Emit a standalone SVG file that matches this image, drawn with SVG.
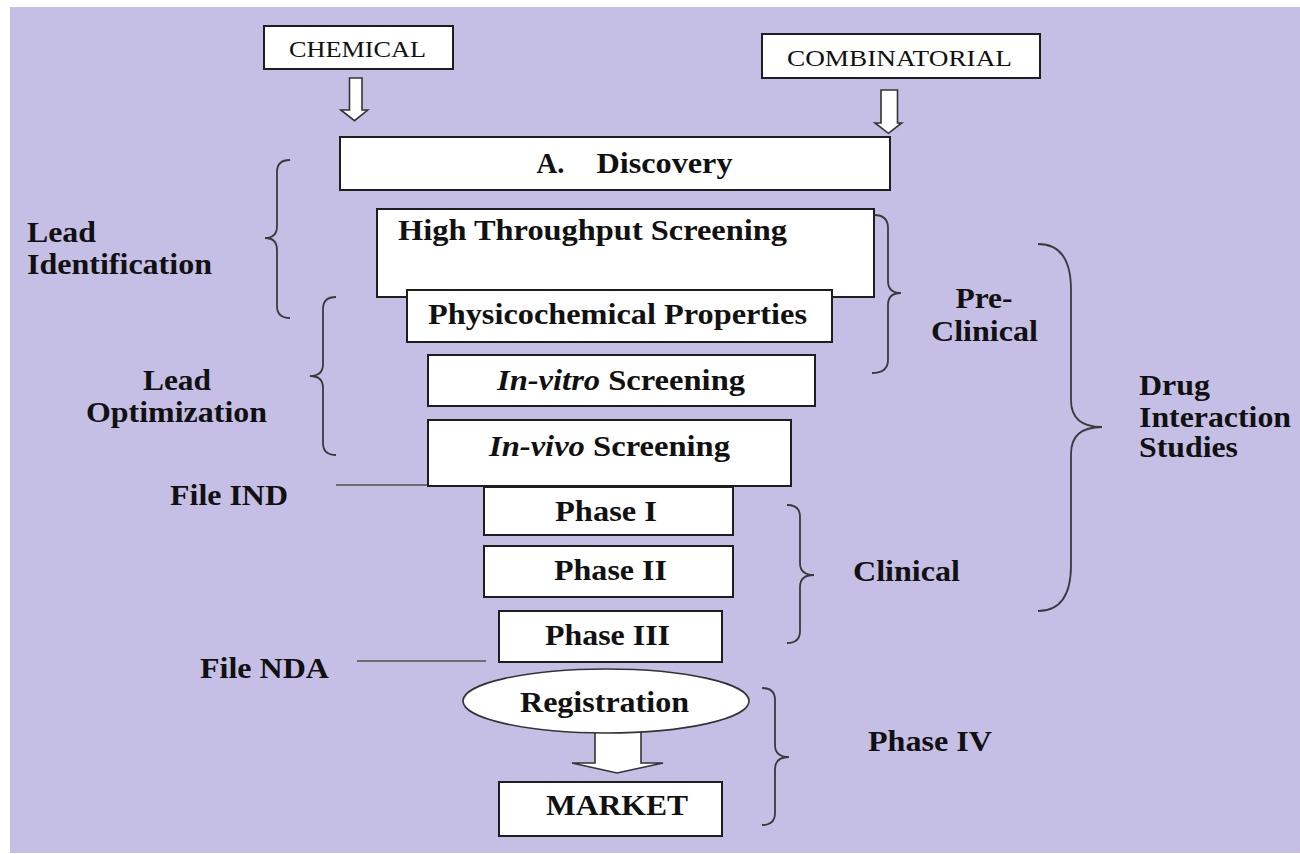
<svg xmlns="http://www.w3.org/2000/svg" width="1300" height="854" viewBox="0 0 1300 854">
<style>
.box{fill:#ffffff;stroke:#1e1e1e;stroke-width:2}
.arr{fill:#ffffff;stroke:#333333;stroke-width:1.6}
.brace{fill:none;stroke:#3a3a3a;stroke-width:1.8}
.ln{stroke:#6e6e6e;stroke-width:2;fill:none}
.b{font-family:"Liberation Serif","Times New Roman",serif;font-weight:bold;font-size:29px;fill:#111}
.r{font-family:"Liberation Serif","Times New Roman",serif;font-size:23px;fill:#111}
.i{font-style:italic}
</style>
<rect x="0" y="0" width="1300" height="854" fill="#ffffff"/>
<rect x="10" y="7" width="1290" height="846" fill="#c6bfe5"/>

<g id="connectors">
  <polygon class="arr" points="349.5,78 362,78 362,110 367.7,110 354.5,120.7 340.8,110 349.5,110"/>
  <polygon class="arr" points="881,90 897.5,90 897.5,123 901.7,123 888.4,133.3 875,123 881,123"/>
  <polygon class="arr" points="595,725 641,725 641,763 663,763 617,773 572,763 595,763"/>
  <line class="ln" x1="336" y1="485" x2="452" y2="485"/>
  <line class="ln" x1="357" y1="661" x2="486" y2="661"/>
</g>

<g id="braces">
  <path class="brace" d="M290 160 Q277 160 277 172 L277 226 Q277 238 265 238 Q277 238 277 250 L277 306 Q277 318 290 318"/>
  <path class="brace" d="M336 297 Q323 297 323 309 L323 364 Q323 376 310 376 Q323 376 323 388 L323 443 Q323 455 336 455"/>
  <path class="brace" d="M874 215 Q888 215 888 228 L888 281 Q888 293 901 293 Q888 293 888 305 L888 360 Q888 373 872 373"/>
  <path class="brace" d="M1038 244 Q1071 244 1071 290 L1071 400 Q1071 427 1102 427 Q1071 427 1071 454 L1071 565 Q1071 611 1038 611"/>
  <path class="brace" d="M787 505 Q800 505 800 517 L800 563 Q800 575 814 575 Q800 575 800 587 L800 631 Q800 643 787 643"/>
  <path class="brace" d="M762 688 Q775 688 775 700 L775 745 Q775 757 789 757 Q775 757 775 769 L775 813 Q775 825 762 825"/>
</g>

<g id="n-chemical">
  <rect class="box" x="264" y="26" width="189" height="43"/>
  <text class="r" x="289" y="57" textLength="137" lengthAdjust="spacingAndGlyphs">CHEMICAL</text>
</g>
<g id="n-combinatorial">
  <rect class="box" x="762" y="34" width="278" height="44"/>
  <text class="r" x="787" y="66" textLength="225" lengthAdjust="spacingAndGlyphs">COMBINATORIAL</text>
</g>
<g id="n-discovery">
  <rect class="box" x="340" y="137" width="550" height="53"/>
  <text class="b" x="536.5" y="173" textLength="28" lengthAdjust="spacingAndGlyphs">A.</text>
  <text class="b" x="596.5" y="173" textLength="136" lengthAdjust="spacingAndGlyphs">Discovery</text>
</g>
<g id="n-hts">
  <rect class="box" x="377" y="209" width="497" height="88"/>
  <text class="b" x="398" y="240" textLength="389" lengthAdjust="spacingAndGlyphs">High Throughput Screening</text>
</g>
<g id="n-physico">
  <rect class="box" x="407" y="290" width="425" height="52"/>
  <text class="b" x="428" y="324" textLength="379" lengthAdjust="spacingAndGlyphs">Physicochemical Properties</text>
</g>
<g id="n-invitro">
  <rect class="box" x="428" y="355" width="387" height="51"/>
  <text class="b" x="497" y="390" textLength="248" lengthAdjust="spacingAndGlyphs"><tspan class="i">In-vitro</tspan> Screening</text>
</g>
<g id="n-invivo">
  <rect class="box" x="428" y="420" width="363" height="66"/>
  <text class="b" x="489" y="456" textLength="241" lengthAdjust="spacingAndGlyphs"><tspan class="i">In-vivo</tspan> Screening</text>
</g>
<g id="n-phase1">
  <rect class="box" x="484" y="487" width="249" height="48"/>
  <text class="b" x="555" y="521" textLength="102" lengthAdjust="spacingAndGlyphs">Phase I</text>
</g>
<g id="n-phase2">
  <rect class="box" x="484" y="546" width="249" height="51"/>
  <text class="b" x="554" y="580" textLength="113" lengthAdjust="spacingAndGlyphs">Phase II</text>
</g>
<g id="n-phase3">
  <rect class="box" x="499" y="611" width="223" height="51"/>
  <text class="b" x="545" y="645" textLength="125" lengthAdjust="spacingAndGlyphs">Phase III</text>
</g>
<g id="n-registration">
  <ellipse cx="606" cy="701" rx="143" ry="32" fill="#ffffff" stroke="#333333" stroke-width="1.6"/>
  <text class="b" x="520" y="712" textLength="169" lengthAdjust="spacingAndGlyphs">Registration</text>
</g>
<g id="n-market">
  <rect class="box" x="499" y="782" width="223" height="54"/>
  <text class="b" x="546" y="815" textLength="142" lengthAdjust="spacingAndGlyphs">MARKET</text>
</g>

<g id="label-lead-identification">
  <text class="b" x="27" y="242" textLength="69" lengthAdjust="spacingAndGlyphs">Lead</text>
  <text class="b" x="27" y="274" textLength="185" lengthAdjust="spacingAndGlyphs">Identification</text>
</g>
<g id="label-lead-optimization">
  <text class="b" x="143" y="390" textLength="68" lengthAdjust="spacingAndGlyphs">Lead</text>
  <text class="b" x="86" y="422" textLength="181" lengthAdjust="spacingAndGlyphs">Optimization</text>
</g>
<g id="label-file-ind">
  <text class="b" x="170" y="505" textLength="118" lengthAdjust="spacingAndGlyphs">File IND</text>
</g>
<g id="label-file-nda">
  <text class="b" x="200" y="678" textLength="129" lengthAdjust="spacingAndGlyphs">File NDA</text>
</g>
<g id="label-preclinical">
  <text class="b" x="955.5" y="308" textLength="57" lengthAdjust="spacingAndGlyphs">Pre-</text>
  <text class="b" x="931" y="341" textLength="107" lengthAdjust="spacingAndGlyphs">Clinical</text>
</g>
<g id="label-drug-interaction">
  <text class="b" x="1139" y="395" textLength="71" lengthAdjust="spacingAndGlyphs">Drug</text>
  <text class="b" x="1139" y="427" textLength="152" lengthAdjust="spacingAndGlyphs">Interaction</text>
  <text class="b" x="1139" y="457" textLength="99" lengthAdjust="spacingAndGlyphs">Studies</text>
</g>
<g id="label-clinical">
  <text class="b" x="853" y="581" textLength="107" lengthAdjust="spacingAndGlyphs">Clinical</text>
</g>
<g id="label-phase4">
  <text class="b" x="868" y="751" textLength="124" lengthAdjust="spacingAndGlyphs">Phase IV</text>
</g>
</svg>
